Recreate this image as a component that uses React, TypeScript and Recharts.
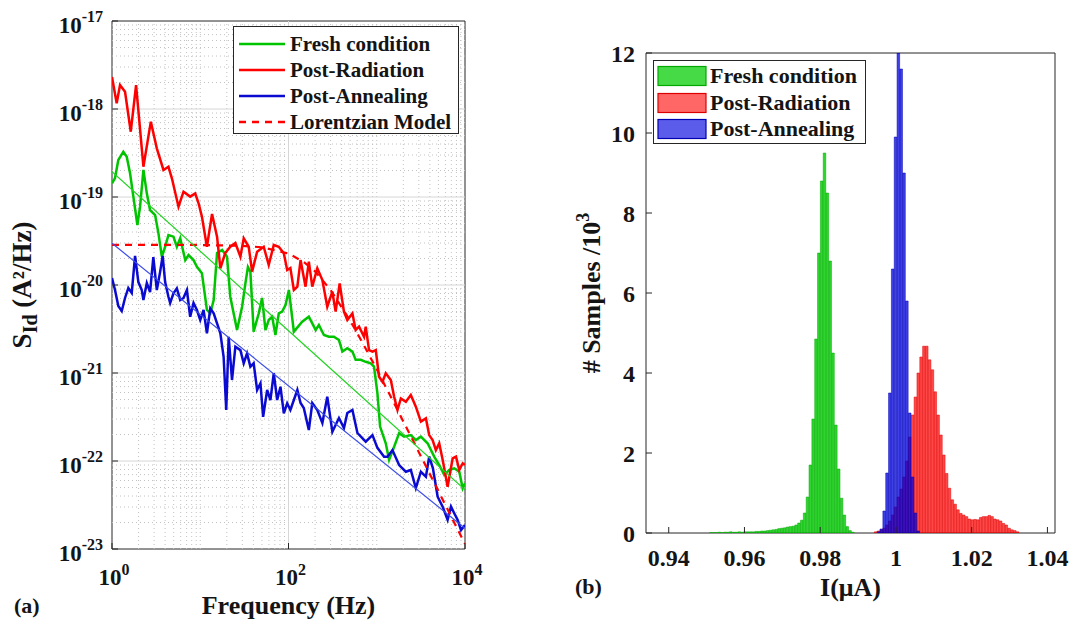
import React from "react"
import {
  LineChart,
  Line,
  ComposedChart,
  Bar,
  XAxis,
  YAxis,
  ReferenceLine,
  ReferenceArea,
} from "recharts"

const FONT = "'Liberation Serif', 'Times New Roman', serif"
const INK = "#141414"
const AXIS = "#262626"

// ---- (a) drain current noise spectra ----
const redFreq = [
  1, 1.13, 1.233, 1.405, 1.632, 1.874, 2.27, 2.754, 3.22, 3.83, 4.36, 4.77, 5.67, 6.46, 7.69, 8.77, 9.57,
  10.45, 11.9, 13.6, 15.5, 16.9, 19.2, 21.9, 25.0, 28.5, 31.1, 35.4, 38.7, 44.1, 52.4, 59.7, 68.1, 77.6,
  88.5, 96.6, 105, 115, 126, 137, 156, 170, 186, 212, 242, 275, 314, 342, 380, 425, 464, 530, 577, 630,
  718, 750, 818, 894, 975, 1062, 1161, 1265, 1443, 1574, 1718, 1875, 2137, 2432, 2773, 3162, 3606, 3929,
  4295, 4677, 5102, 5581, 6353, 7244, 7907, 8610, 9419, 10000,
]
const redPsd = [
  2.31e-18, 1.16e-18, 1.87e-18, 1.57e-18, 5.52e-19, 1.87e-18, 2.21e-19, 7.18e-19, 3.57e-19, 2.03e-19,
  2.21e-19, 1.63e-19, 7.76e-20, 1.15e-19, 1.01e-19, 1.1e-19, 8.48e-20, 5.97e-20, 2.72e-20, 6.41e-20,
  3.54e-20, 1.55e-20, 2.31e-20, 2.72e-20, 3.0e-20, 2.1e-20, 3.4e-20, 2.72e-20, 1.42e-20, 2.39e-20,
  2.72e-20, 1.69e-20, 2.85e-20, 2.72e-20, 2.29e-20, 1.48e-20, 1.56e-20, 8.77e-21, 9.57e-21, 1.92e-20,
  9.57e-21, 1.84e-20, 9.57e-21, 1.55e-20, 1.14e-20, 5.66e-21, 8.39e-21, 4.98e-21, 1.04e-20, 4.98e-21,
  4.0e-21, 4.76e-21, 3.08e-21, 3.36e-21, 2.58e-21, 3.36e-21, 1.82e-21, 1.75e-21, 1.82e-21, 9.08e-22,
  7.96e-22, 9.93e-22, 8.32e-22, 5.38e-22, 3.8e-22, 5.15e-22, 4.72e-22, 5.62e-22, 4.14e-22, 2.8e-22,
  3.05e-22, 1.97e-22, 1.73e-22, 1.33e-22, 1.59e-22, 1.03e-22, 5.1e-23, 1.07e-22, 1.12e-22, 7.91e-23,
  9.42e-23, 9.0e-23,
]

const greenFreq = [
  1, 1.082, 1.179, 1.344, 1.469, 1.602, 1.746, 1.939, 2.08, 2.27, 2.48, 2.7, 3.08, 3.36, 3.67, 4.0, 4.36,
  4.97, 5.43, 5.93, 6.76, 7.36, 8.39, 9.17, 10.45, 11.9, 13.0, 14.2, 15.5, 17.7, 20.1, 21.9, 26.1, 29.8,
  32.5, 34.7, 37.0, 40.3, 46.0, 50.2, 54.8, 59.7, 65.3, 71.1, 77.6, 84.8, 92.5, 101, 115, 143, 170, 186,
  203, 221, 252, 287, 327, 373, 408, 464, 530, 577, 658, 750, 855, 931, 1018, 1091, 1265, 1380, 1574,
  1792, 2043, 2432, 2773, 3162, 3767, 4477, 5102, 5821, 6637, 7551, 8610, 9419, 10000,
]
const greenPsd = [
  1.43e-19, 1.64e-19, 2.63e-19, 3.27e-19, 2.87e-19, 1.86e-19, 1.01e-19, 4.81e-20, 7.76e-20, 2.03e-19,
  1.1e-19, 7.11e-20, 6.24e-20, 3.86e-20, 2.1e-20, 2.72e-20, 3.7e-20, 3.54e-20, 2.72e-20, 3.4e-20,
  1.92e-20, 2.19e-20, 1.92e-20, 1.61e-20, 1.36e-20, 5.2e-21, 4.76e-21, 6.76e-21, 2.31e-20, 2.5e-20,
  2.1e-20, 7.36e-21, 3.08e-21, 5.66e-21, 1.05e-20, 1.6e-20, 1.41e-20, 2.95e-21, 4.76e-21, 7.12e-21,
  3.08e-21, 4.0e-21, 4.36e-21, 2.7e-21, 4.76e-21, 4.98e-21, 5.93e-21, 8.77e-21, 2.95e-21, 3.83e-21,
  4.36e-21, 3.67e-21, 3.08e-21, 3.51e-21, 2.7e-21, 2.58e-21, 2.58e-21, 2.37e-21, 1.75e-21, 1.91e-21,
  1.75e-21, 1.41e-21, 1.41e-21, 1.34e-21, 1.29e-21, 1.18e-21, 5.87e-22, 2.46e-22, 1.59e-22, 1.03e-22,
  1.45e-22, 2.07e-22, 1.89e-22, 1.97e-22, 1.73e-22, 1.89e-22, 1.59e-22, 1.12e-22, 9.0e-23, 6.93e-23,
  7.91e-23, 8.26e-23, 7.55e-23, 4.9e-23, 5.58e-23,
]

const blueFreq = [
  1, 1.082, 1.179, 1.289, 1.405, 1.531, 1.674, 1.825, 1.99, 2.175, 2.27, 2.48, 2.7, 2.94, 3.22, 3.51,
  3.75, 4.0, 4.36, 4.56, 4.97, 5.43, 5.93, 6.46, 7.06, 7.69, 8.39, 9.17, 10, 10.9, 11.9, 13.0, 14.2, 15.5,
  16.9, 18.4, 19.7, 21.0, 22.9, 25.0, 28.5, 31.1, 33.9, 37.0, 40.3, 44.1, 48.1, 51.6, 57.3, 62.4, 68.1,
  74.4, 81.1, 88.5, 96.6, 105, 126, 137, 149, 170, 186, 212, 242, 275, 314, 373, 425, 464, 530, 604, 750,
  894, 1018, 1211, 1324, 1507, 1792, 2137, 2432, 2773, 3162, 3606, 3929, 4325, 4898, 5581, 6353, 6934,
  7551, 8260, 9016, 10000,
]
const bluePsd = [
  1.2e-20, 8.77e-21, 5.77e-21, 5.07e-21, 7.12e-21, 9.25e-21, 8.11e-21, 2.14e-20, 1.08e-20, 8.77e-21,
  6.76e-21, 1.05e-20, 8.32e-21, 2.08e-20, 8.77e-21, 1.41e-20, 2.14e-20, 1.08e-20, 7.36e-21, 6.24e-21,
  8.05e-21, 9.16e-21, 6.76e-21, 7.12e-21, 8.77e-21, 4.36e-21, 6.24e-21, 5.2e-21, 4.0e-21, 5.2e-21,
  2.83e-21, 5.43e-21, 4.76e-21, 3.67e-21, 2.83e-21, 1.53e-21, 3.8e-22, 2.58e-21, 8.32e-22, 1.99e-21,
  1.82e-21, 1.29e-21, 1.67e-21, 1.18e-21, 1.29e-21, 6.41e-22, 7.64e-22, 3.18e-22, 6.41e-22, 4.93e-22,
  9.93e-22, 4.93e-22, 6.98e-22, 3.48e-22, 4.53e-22, 3.8e-22, 6.41e-22, 4.56e-22, 4.0e-22, 2.25e-22,
  4.56e-22, 3.8e-22, 2.7e-22, 5.38e-22, 2.15e-22, 3.08e-22, 2.37e-22, 3.51e-22, 3.8e-22, 2.08e-22,
  1.66e-22, 1.97e-22, 1.41e-22, 1.12e-22, 1.12e-22, 1.33e-22, 9.0e-23, 7.55e-23, 7.91e-23, 4.93e-23,
  7.55e-23, 6.64e-23, 1.12e-22, 8.32e-23, 3.93e-23, 3.03e-23, 2.14e-23, 3.03e-23, 2.55e-23, 2.14e-23,
  1.64e-23, 1.87e-23,
]

// lorentzian fit, sampled at a handful of frequencies
const lorFreq = [1, 10, 30, 50, 100, 150, 200, 300, 500, 700, 1000, 1500, 2000, 3000, 5000, 7000, 10000]
const lorPsd = [
  2.85e-20, 2.85e-20, 2.79e-20, 2.68e-20, 2.28e-20, 1.82e-20, 1.43e-20, 8.77e-21, 3.93e-21, 2.15e-21,
  1.1e-21, 4.98e-22, 2.82e-22, 1.26e-22, 4.55e-23, 2.32e-23, 1.14e-23,
]

// 1/f trend lines
const greenFitFreq = [1, 10000]
const greenFitPsd = [1.94e-19, 4.7e-23]
const blueFitFreq = [1, 10000]
const blueFitPsd = [2.98e-20, 1.72e-23]

const freqTicks = [1, 100, 10000]
const psdTicks = [1e-23, 1e-22, 1e-21, 1e-20, 1e-19, 1e-18, 1e-17]

// ---- (b) current histograms (counts / 10^3) ----
const binStart = 0.9508
const binWidth = 0.00075
const greenOffset = 0
const greenCounts = [
  0.01, 0.01, 0.01, 0.02, 0.01, 0.02, 0.02, 0.03, 0.02, 0.02, 0.03, 0.02, 0.03, 0.03, 0.03, 0.03, 0.04,
  0.04, 0.05, 0.05, 0.06, 0.07, 0.08, 0.09, 0.11, 0.12, 0.13, 0.15, 0.16, 0.17, 0.2, 0.25, 0.32, 0.5, 0.9,
  1.7, 2.85, 4.85, 7.0, 8.8, 9.5, 8.5, 6.8, 4.5, 2.7, 1.6, 0.87, 0.45, 0.16, 0.06, 0.02,
]
const redOffset = 58
const redCounts = [
  0.03, 0.05, 0.08, 0.12, 0.2, 0.3, 0.45, 0.65, 0.9, 1.1, 1.4, 1.8, 2.4, 2.95, 3.4, 4.0, 4.4, 4.67, 4.67,
  4.33, 4.08, 3.53, 2.95, 2.45, 1.95, 1.49, 1.12, 0.83, 0.72, 0.58, 0.49, 0.45, 0.41, 0.35, 0.33, 0.34,
  0.33, 0.39, 0.41, 0.41, 0.44, 0.41, 0.35, 0.33, 0.3, 0.24, 0.2, 0.12, 0.08, 0.06, 0.03,
]
const blueOffset = 59
const blueCounts = [0.03, 0.1, 0.55, 1.5, 3.5, 6.6, 9.9, 12.0, 11.6, 9.0, 5.8, 3.0, 1.4, 0.5, 0.05]

const currentDomain: [number, number] = [0.934, 1.042]
const currentTicks = [0.94, 0.96, 0.98, 1, 1.02, 1.04]
const countTicks = [0, 2, 4, 6, 8, 10, 12]

// ---- derived tables ----
const toRows = (fs: number[], ss: number[]) => fs.map((f, i) => ({ f, s: ss[i] }))
const redRows = toRows(redFreq, redPsd)
const greenRows = toRows(greenFreq, greenPsd)
const blueRows = toRows(blueFreq, bluePsd)
const lorRows = toRows(lorFreq, lorPsd)
const greenFitRows = toRows(greenFitFreq, greenFitPsd)
const blueFitRows = toRows(blueFitFreq, blueFitPsd)

const nBins = redOffset + redCounts.length
const histRows = Array.from({ length: nBins }, (_, k) => ({
  x: binStart + binWidth * (k + 0.5),
  green: greenCounts[k - greenOffset] ?? null,
  red: redCounts[k - redOffset] ?? null,
  blue: blueCounts[k - blueOffset] ?? null,
}))

const minorFreq: number[] = []
for (const d of [1, 10, 100, 1000]) for (let m = 2; m <= 9; m++) minorFreq.push(m * d)
minorFreq.push(10, 1000)
const minorPsd: number[] = []
for (const d of psdTicks.slice(0, -1)) for (let m = 2; m <= 9; m++) minorPsd.push(m * d)
const majorPsdInner = psdTicks.slice(1, -1)

const HIST_PLOT_W = 409
const barPx = (HIST_PLOT_W * binWidth) / (currentDomain[1] - currentDomain[0])

const noTick = () => <g />

function LogXTick({ x, y, payload }: any) {
  const e = Math.round(Math.log10(payload.value))
  return (
    <text x={x + 2} y={y + 42} textAnchor="middle" fontFamily={FONT} fontWeight="bold" fontSize={23} fill={INK}>
      <tspan>10</tspan>
      <tspan dy={-10} fontSize={16}>{e}</tspan>
    </text>
  )
}

function LogYTick({ x, y, payload }: any) {
  const e = Math.round(Math.log10(payload.value))
  return (
    <text x={x} y={y + 12} textAnchor="end" fontFamily={FONT} fontWeight="bold" fontSize={23} fill={INK}>
      <tspan>10</tspan>
      <tspan dy={-11} fontSize={16}>{e}</tspan>
    </text>
  )
}

function CurrentTick({ x, y, payload }: any) {
  const v = Number(payload.value.toFixed(2)).toString()
  return (
    <text x={x} y={y + 39} textAnchor="middle" fontFamily={FONT} fontWeight="bold" fontSize={24} fill={INK}>
      {v}
    </text>
  )
}

function CountTick({ x, y, payload }: any) {
  return (
    <text x={x} y={y + 9} textAnchor="end" fontFamily={FONT} fontWeight="bold" fontSize={24} fill={INK}>
      {payload.value}
    </text>
  )
}

const vbOf = (p: any) => p.viewBox ?? { x: 0, y: 0, width: 0, height: 0 }

function FreqLabel(p: any) {
  const vb = vbOf(p)
  return (
    <text x={vb.x + vb.width / 2} y={vb.y + 65} textAnchor="middle" fontFamily={FONT} fontWeight="bold" fontSize={26} fill={INK}>
      Frequency (Hz)
    </text>
  )
}

function PsdLabel(p: any) {
  const vb = vbOf(p)
  const cx = vb.x + 19
  const cy = vb.y + vb.height / 2
  return (
    <text x={cx} y={cy} transform={`rotate(-90 ${cx} ${cy})`} textAnchor="middle" fontFamily={FONT} fontWeight="bold" fontSize={27} fill={INK}>
      <tspan>S</tspan>
      <tspan dy={6} fontSize={20}>Id</tspan>
      <tspan dy={-6}> (A²/Hz)</tspan>
    </text>
  )
}

function CurrentLabel(p: any) {
  const vb = vbOf(p)
  return (
    <text x={vb.x + vb.width / 2} y={vb.y + 63} textAnchor="middle" fontFamily={FONT} fontWeight="bold" fontSize={26} fill={INK}>
      I(μA)
    </text>
  )
}

function CountLabel(p: any) {
  const vb = vbOf(p)
  const cx = vb.x + 44
  const cy = vb.y + vb.height / 2
  return (
    <text x={cx} y={cy} transform={`rotate(-90 ${cx} ${cy})`} textAnchor="middle" fontFamily={FONT} fontWeight="bold" fontSize={26} fill={INK}>
      <tspan># Samples /10</tspan>
      <tspan dy={-11} fontSize={18}>3</tspan>
    </text>
  )
}

const spectra = [
  { name: "Fresh condition", color: "#00c400", dash: undefined },
  { name: "Post-Radiation", color: "#ff0000", dash: undefined },
  { name: "Post-Annealing", color: "#0a0ad0", dash: undefined },
  { name: "Lorentzian Model", color: "#ff0000", dash: "7 6" },
]

const hists = [
  { name: "Fresh condition", fill: "#00cc00", opacity: 0.82, edge: "#00a800", legend: 0.72 },
  { name: "Post-Radiation", fill: "#ff0000", opacity: 0.72, edge: "#dd0000", legend: 0.6 },
  { name: "Post-Annealing", fill: "#0000e0", opacity: 0.75, edge: "#0000b0", legend: 0.64 },
]

function SpectrumChart() {
  const logX = { type: "number" as const, scale: "log" as const, domain: [1, 10000], allowDataOverflow: true, dataKey: "f" }
  const logY = { type: "number" as const, scale: "log" as const, domain: [1e-23, 1e-17], allowDataOverflow: true }
  return (
    <LineChart width={540} height={624} margin={{ top: 21, right: 75, bottom: 35, left: 12 }}>
      <XAxis xAxisId="minorB" {...logX} ticks={minorFreq} interval={0} tickSize={-3} height={0} axisLine={false} tick={noTick} stroke={AXIS} />
      <XAxis xAxisId="minorT" orientation="top" {...logX} ticks={minorFreq} interval={0} tickSize={-3} height={0} axisLine={false} tick={noTick} stroke={AXIS} />
      <XAxis xAxisId="top" orientation="top" {...logX} ticks={freqTicks} interval={0} tickSize={-6} height={0} axisLine={false} tick={noTick} stroke={AXIS} />
      <XAxis {...logX} ticks={freqTicks} interval={0} tickSize={-6} tickMargin={0} height={40} axisLine={false} tick={LogXTick} stroke={AXIS} label={FreqLabel} />
      <YAxis yAxisId="minorL" {...logY} ticks={minorPsd} interval={0} tickSize={-3} width={0} axisLine={false} tick={noTick} stroke={AXIS} />
      <YAxis yAxisId="minorR" orientation="right" {...logY} ticks={minorPsd} interval={0} tickSize={-3} width={0} axisLine={false} tick={noTick} stroke={AXIS} />
      <YAxis yAxisId="right" orientation="right" {...logY} ticks={psdTicks} interval={0} tickSize={-6} width={0} axisLine={false} tick={noTick} stroke={AXIS} />
      <YAxis {...logY} ticks={psdTicks} interval={0} tickSize={-6} tickMargin={15} width={100} axisLine={false} tick={LogYTick} stroke={AXIS} label={PsdLabel} />

      {minorFreq.map((v) => (
        <ReferenceLine key={"mx" + v} x={v} stroke="#c2c2c2" strokeDasharray="1 3" />
      ))}
      {minorPsd.map((v) => (
        <ReferenceLine key={"my" + v} y={v} stroke="#c2c2c2" strokeDasharray="1 3" />
      ))}
      <ReferenceLine x={100} stroke="#d6d6d6" />
      {majorPsdInner.map((v) => (
        <ReferenceLine key={"My" + v} y={v} stroke="#d6d6d6" />
      ))}

      <Line data={greenRows} dataKey="s" stroke={spectra[0].color} strokeWidth={2.5} dot={false} isAnimationActive={false} />
      <Line data={redRows} dataKey="s" stroke={spectra[1].color} strokeWidth={2.5} dot={false} isAnimationActive={false} />
      <Line data={blueRows} dataKey="s" stroke={spectra[2].color} strokeWidth={2.5} dot={false} isAnimationActive={false} />
      <Line data={lorRows} dataKey="s" stroke={spectra[3].color} strokeWidth={2.2} strokeDasharray={spectra[3].dash} dot={false} isAnimationActive={false} />
      <Line data={greenFitRows} dataKey="s" stroke="#22d322" strokeWidth={1.2} dot={false} isAnimationActive={false} />
      <Line data={blueFitRows} dataKey="s" stroke="#3c4ee6" strokeWidth={1.2} dot={false} isAnimationActive={false} />

      <ReferenceArea x1={1} x2={10000} y1={1e-23} y2={1e-17} fill="none" stroke={AXIS} strokeWidth={1} ifOverflow="visible" />
    </LineChart>
  )
}

function HistogramChart() {
  const numX = { type: "number" as const, dataKey: "x", domain: currentDomain, allowDataOverflow: true }
  return (
    <ComposedChart width={534} height={624} data={histRows} margin={{ top: 53, right: 19, bottom: 51, left: 16 }} barGap={0} barCategoryGap={0}>
      <XAxis xAxisId="top" orientation="top" {...numX} ticks={currentTicks} interval={0} tickSize={-6} height={0} axisLine={false} tick={noTick} stroke={AXIS} />
      <XAxis xAxisId="r" hide height={0} {...numX} />
      <XAxis xAxisId="b" hide height={0} {...numX} />
      <XAxis xAxisId="g" {...numX} ticks={currentTicks} interval={0} tickSize={-6} tickMargin={0} height={40} axisLine={false} tick={CurrentTick} stroke={AXIS} label={CurrentLabel} />
      <YAxis yAxisId="right" orientation="right" type="number" domain={[0, 12]} ticks={countTicks} interval={0} tickSize={-6} width={0} axisLine={false} tick={noTick} stroke={AXIS} />
      <YAxis type="number" domain={[0, 12]} allowDataOverflow ticks={countTicks} interval={0} tickSize={-6} tickMargin={17} width={90} axisLine={false} tick={CountTick} stroke={AXIS} label={CountLabel} />

      <Bar xAxisId="g" dataKey="green" barSize={barPx} fill={hists[0].fill} fillOpacity={hists[0].opacity} stroke={hists[0].edge} strokeWidth={0.5} isAnimationActive={false} />
      <Bar xAxisId="r" dataKey="red" barSize={barPx} fill={hists[1].fill} fillOpacity={hists[1].opacity} stroke={hists[1].edge} strokeWidth={0.5} isAnimationActive={false} />
      <Bar xAxisId="b" dataKey="blue" barSize={barPx} fill={hists[2].fill} fillOpacity={hists[2].opacity} stroke={hists[2].edge} strokeWidth={0.5} isAnimationActive={false} />

      <ReferenceArea xAxisId="g" x1={currentDomain[0]} x2={currentDomain[1]} y1={0} y2={12} fill="none" stroke={AXIS} strokeWidth={1} ifOverflow="visible" />
    </ComposedChart>
  )
}

const legendText: React.CSSProperties = {
  fontFamily: FONT,
  fontWeight: "bold",
  color: INK,
  whiteSpace: "nowrap",
}

export default function App() {
  return (
    <div style={{ position: "absolute", left: 0, top: 0, width: 1074, height: 624, background: "#fff", overflow: "hidden" }}>
      <div style={{ position: "absolute", left: 0, top: 0 }}>
        <SpectrumChart />
      </div>
      <div style={{ position: "absolute", left: 540, top: 0 }}>
        <HistogramChart />
      </div>

      {/* legend (a) */}
      <div style={{ position: "absolute", left: 233, top: 26, width: 224, height: 106, border: `1px solid ${AXIS}`, background: "#fff" }}>
        {spectra.map((s, i) => (
          <div key={s.name} style={{ position: "absolute", left: 0, top: 4 + i * 26, height: 26, display: "flex", alignItems: "center" }}>
            <svg width={56} height={10} style={{ flex: "none" }}>
              <line x1={5} x2={51} y1={5} y2={5} stroke={s.color} strokeWidth={2.5} strokeDasharray={s.dash} />
            </svg>
            <span style={{ ...legendText, fontSize: 21 }}>{s.name}</span>
          </div>
        ))}
      </div>

      {/* legend (b) */}
      <div style={{ position: "absolute", left: 653, top: 60, width: 211, height: 82, border: `1px solid ${AXIS}`, background: "#fff" }}>
        {hists.map((h, i) => (
          <div key={h.name} style={{ position: "absolute", left: 0, top: 2 + i * 26.5, height: 26, display: "flex", alignItems: "center" }}>
            <svg width={56} height={22} style={{ flex: "none" }}>
              <rect x={4} y={1.5} width={48} height={19} fill={h.fill} fillOpacity={h.legend} stroke={h.edge} strokeWidth={1.2} />
            </svg>
            <span style={{ ...legendText, fontSize: 22 }}>{h.name}</span>
          </div>
        ))}
      </div>

      <div style={{ ...legendText, position: "absolute", left: 14, top: 593, fontSize: 22 }}>(a)</div>
      <div style={{ ...legendText, position: "absolute", left: 575, top: 574, fontSize: 22 }}>(b)</div>
    </div>
  )
}
